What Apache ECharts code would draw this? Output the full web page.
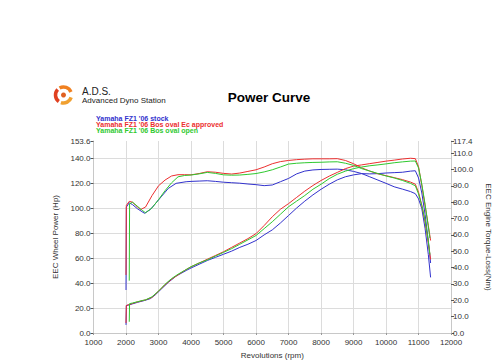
<!DOCTYPE html>
<html>
<head>
<meta charset="utf-8">
<script src="https://cdn.jsdelivr.net/npm/echarts@6/dist/echarts.min.js"></script>
<style>html,body{margin:0;padding:0;background:#fff}#c{width:500px;height:364px}</style>
</head>
<body>
<div id="c"></div>
<script>
// ---- Data ----
const seriesNames = ["Yamaha FZ1 '06 stock", "Yamaha FZ1 '06 Bos oval Ec approved", "Yamaha FZ1 '06 Bos oval open"];

const rpmStock = [2000,2010,2100,2200,2350,2570,2750,2900,3100,3300,3540,3850,4000,4250,4500,4750,5000,5250,5500,5750,6000,6250,6500,6750,7000,7250,7500,7750,8000,8250,8500,8750,9000,9250,9500,9750,10000,10250,10500,10750,10900,11000,11100,11200,11300,11370];
const powerStock = [6.5,22,22.5,23.3,24.5,26,27.5,30.5,35.5,40.5,45.5,50,52,55,58,60.5,63,65.5,68.5,71,74,78.5,82.5,88,94,100,105.5,110.5,115,119,122.5,125,126.5,127.5,127.3,127.5,128,128.3,128.6,129.5,129.8,124,112,95,74,56];
const torqueStock = [26.3,77,79.6,78.5,76,73.2,75.5,79,83.7,88.4,91.5,92.5,92.7,92.9,93.1,92.7,92.2,91.9,91.6,91.1,90.7,90.1,90.5,92.5,94.5,97.3,99,99.7,100,100.1,100.2,99.8,98.8,97.5,95.5,93.5,91.5,89.4,88,86.5,85.2,82,76,64,48,34];

const rpmEc = [2000,2010,2100,2200,2300,2450,2600,2800,3000,3200,3400,3600,3800,4000,4250,4500,4750,5000,5250,5500,5750,6000,6250,6500,6750,7000,7250,7500,7750,8000,8250,8500,8750,9000,9250,9500,9750,10000,10250,10500,10750,10900,11000,11100,11200,11300,11370];
const powerEc = [8,22,22.8,23.6,24.5,25.5,26.5,28.5,33.5,38.5,43,46.5,50,53,56,59,62,65,68.5,72,75.5,79.5,86,93,99,103.5,108.5,113.5,118,122,125.5,128.5,131.5,133.5,134.5,135.5,136.5,137.5,138.3,139.2,139.8,139.5,133,118,102,86,74];
const torqueEc = [35.5,78,80.5,80,78,75.5,77,84,90,93.5,96,96.8,96.8,96.7,97.5,98.6,98.3,97.6,97.2,97.8,98.8,99.8,101.5,103.5,104.8,105.5,106,106.3,106.5,106.5,106.5,106.6,105.5,103.5,101,99,97.3,96.2,95,93.8,92.3,91,86,78,68,55,45];

const rpmOpen = [2100,2110,2200,2350,2500,2600,2800,3000,3200,3400,3600,3800,4000,4250,4500,4750,5000,5250,5500,5750,6000,6250,6500,6750,7000,7250,7500,7750,8000,8250,8500,8750,9000,9250,9500,9750,10000,10250,10500,10750,10900,11000,11100,11200,11300,11350];
const powerOpen = [9,23.5,24,25,26,26.5,29,33.5,39,43.5,47,50,53,56,58.5,61.5,64.5,67.5,71,74.5,78,83.5,89,95,101,105.5,110,115,119,123.5,127,129.5,131.5,132.8,133.8,134.5,135.3,136.2,136.9,137.5,137.6,132,119,103,85,76];
const torqueOpen = [32,79,80,77.5,75,73.5,76.5,81.5,87,91.8,95.5,96.3,96.6,97.3,98.2,97.6,96.7,96.5,96.6,97,97.5,98.5,99.8,101.5,103.3,103.8,104.1,104.3,104.4,104.6,104.7,103.8,102.5,100.5,99,97.5,96,94.8,93.3,91.5,90,85,78,69,56,48];

const powerAxisMax = 153.6;
const torqueAxisMax = 117.4;

// ---- Chart ----
const colors = ['#3232cd', '#ec2f2f', '#2fc92f'];
const FONT = 'Liberation Sans, Arial, sans-serif';
const zip = (xs, ys) => xs.map((x, i) => [x, ys[i]]);

const runs = [
  {rpm: rpmStock, p: powerStock, t: torqueStock},
  {rpm: rpmEc, p: powerEc, t: torqueEc},
  {rpm: rpmOpen, p: powerOpen, t: torqueOpen}
];

const series = [];
runs.forEach((r, i) => {
  series.push({type: 'line', name: seriesNames[i], yAxisIndex: 0, data: zip(r.rpm, r.p),
    showSymbol: false, lineStyle: {width: 1, color: colors[i]}, itemStyle: {color: colors[i]}, animation: false, z: 3 + i});
  series.push({type: 'line', name: seriesNames[i] + ' torque', yAxisIndex: 1, data: zip(r.rpm, r.t),
    showSymbol: false, lineStyle: {width: 1, color: colors[i]}, itemStyle: {color: colors[i]}, animation: false, z: 3 + i});
});

const labelStyle = {fontSize: 8, color: '#333', fontFamily: FONT};
const chart = echarts.init(document.getElementById('c'), null, {renderer: 'svg'});
chart.setOption({
  backgroundColor: '#fff',
  animation: false,
  grid: {left: 93.5, right: 46, top: 141, bottom: 31},
  xAxis: {
    type: 'value', min: 1000, max: 12000, interval: 1000,
    name: 'Revolutions (rpm)', nameLocation: 'middle', nameGap: 18,
    nameTextStyle: labelStyle,
    axisLine: {lineStyle: {color: '#c8c8c8'}},
    axisTick: {show: true, length: 2, lineStyle: {color: '#999'}},
    axisLabel: Object.assign({margin: 5, formatter: v => String(v)}, labelStyle),
    splitLine: {show: true, lineStyle: {color: '#dcdcdc', width: 1}}
  },
  yAxis: [{
    type: 'value', min: 0, max: powerAxisMax, interval: 20, position: 'left',
    name: 'EEC Wheel Power (Hp)', nameLocation: 'middle', nameGap: 27,
    nameTextStyle: labelStyle,
    axisLine: {show: true, lineStyle: {color: '#c8c8c8'}},
    axisTick: {show: true, length: 3, lineStyle: {color: '#555'}},
    axisLabel: Object.assign({margin: 3, formatter: v => v.toFixed(1)}, labelStyle),
    splitLine: {show: true, showMaxLine: false, lineStyle: {color: '#dcdcdc', width: 1}}
  }, {
    type: 'value', min: 0, max: torqueAxisMax, interval: 10, position: 'right',
    name: 'EEC Engine Torque-Loss(Nm)', nameLocation: 'middle', nameGap: 24, nameRotate: -90,
    nameTextStyle: labelStyle,
    axisLine: {show: true, lineStyle: {color: '#c8c8c8'}},
    axisTick: {show: true, length: 3, lineStyle: {color: '#555'}},
    axisLabel: Object.assign({margin: 2, formatter: v => v.toFixed(1)}, labelStyle),
    splitLine: {show: false}
  }],
  graphic: [
    {type: 'arc', shape: {cx: 63.5, cy: 95, r: 8, startAngle: 0.3, endAngle: 1.9}, style: {stroke: '#f0a030', lineWidth: 3.5, fill: null}},
    {type: 'arc', shape: {cx: 63.5, cy: 95, r: 8, startAngle: 2.2, endAngle: 3.9}, style: {stroke: '#e04020', lineWidth: 3.5, fill: null}},
    {type: 'arc', shape: {cx: 63.5, cy: 95, r: 8, startAngle: 4.2, endAngle: 5.9}, style: {stroke: '#f08020', lineWidth: 3.5, fill: null}},
    {type: 'circle', shape: {cx: 63.5, cy: 95, r: 2.5}, style: {fill: '#e06020'}},
    {type: 'text', x: 82, y: 86, style: {text: 'A.D.S.', fontSize: 10, fill: '#222', fontFamily: FONT}},
    {type: 'text', x: 82, y: 96.5, style: {text: 'Advanced Dyno Station', fontSize: 8, fill: '#222', fontFamily: FONT}},
    {type: 'text', x: 269, y: 97, style: {text: 'Power Curve', fontSize: 13.5, fontWeight: 'bold', fill: '#000', fontFamily: FONT, align: 'center', verticalAlign: 'middle'}},
    {type: 'text', x: 96, y: 115, style: {text: seriesNames[0], fontSize: 7, fontWeight: 'bold', fill: colors[0], fontFamily: FONT}},
    {type: 'text', x: 96, y: 121, style: {text: seriesNames[1], fontSize: 7, fontWeight: 'bold', fill: colors[1], fontFamily: FONT}},
    {type: 'text', x: 96, y: 127, style: {text: seriesNames[2], fontSize: 7, fontWeight: 'bold', fill: colors[2], fontFamily: FONT}}
  ],
  series: series
});
</script>
</body>
</html>
